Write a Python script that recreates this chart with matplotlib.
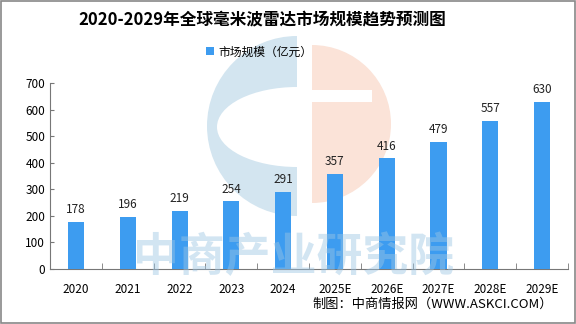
import numpy as np
import matplotlib.pyplot as plt
from matplotlib.patches import Ellipse, Rectangle, Wedge

plt.rcParams['font.family'] = ['Noto Sans CJK SC', 'DejaVu Sans']

years = ['2020', '2021', '2022', '2023', '2024', '2025E', '2026E', '2027E', '2028E', '2029E']
values = [178, 196, 219, 254, 291, 357, 416, 479, 557, 630]

fig = plt.figure(figsize=(5.76, 3.24), dpi=100)

# background layer in pixel coordinates for the watermark logo
bg = fig.add_axes([0, 0, 1, 1], zorder=0)
bg.set_xlim(0, 576)
bg.set_ylim(324, 0)
bg.axis('off')
blue_wm = '#d3e5f0'
pink_wm = '#fbe3d8'
bg.add_patch(Wedge((297, 126), 90, 90, 270, facecolor=blue_wm, edgecolor='none'))
bg.add_patch(Ellipse((297, 127), 160, 80, facecolor='white', edgecolor='none'))
bg.add_patch(Rectangle((297, 40), 20, 180, facecolor='white', edgecolor='none'))
bg.add_patch(Wedge((312, 124), 79, -90, 90, facecolor=pink_wm, edgecolor='none'))
bg.add_patch(Rectangle((312, 90), 60, 12, facecolor='white', edgecolor='none'))
bg.add_patch(Rectangle((1, 1), 574, 322, fill=False, edgecolor='#888888', linewidth=1.2))

ax = fig.add_axes([0.087, 0.17, 0.899, 0.574], zorder=1)
x = np.arange(len(years))
ax.bar(x, values, width=0.31, color='#3d9cf0', zorder=3, label='市场规模（亿元）')
for xi, v in zip(x, values):
    ax.text(xi, v + 22, str(v), ha='center', va='bottom', fontsize=8.5, color='#222222')

ax.set_ylim(0, 700)
ax.set_yticks(range(0, 701, 100))
ax.set_xlim(-0.5, len(years) - 0.5)
ax.set_xticks(x)
ax.set_xticklabels(years, fontsize=8.5)
ax.set_xticks(np.arange(-0.5, len(years), 1), minor=True)
ax.tick_params(axis='x', which='major', length=0, pad=10)
ax.tick_params(axis='x', which='minor', length=4, direction='in', color='#777777')
ax.tick_params(axis='y', labelsize=8.5, length=3, direction='in', color='#777777')
for s in ['top', 'right']:
    ax.spines[s].set_visible(False)
for s in ['left', 'bottom']:
    ax.spines[s].set_color('#777777')
ax.patch.set_alpha(0)

fig.text(0.455, 0.94, '2020-2029年全球毫米波雷达市场规模趋势预测图', ha='center', va='center',
         fontsize=12, fontweight='bold')
fig.legend(loc='center', bbox_to_anchor=(0.45, 0.84), frameon=False, fontsize=8.5,
           handlelength=0.7, handleheight=0.7, handletextpad=0.4)
fig.text(0.51, 0.205, '中商产业研究院', ha='center', va='center', fontsize=33,
         fontweight='bold', color='#9cc6e4', alpha=0.45, zorder=5)
fig.text(0.96, 0.06, '制图：中商情报网（WWW.ASKCI.COM）', ha='right', va='center', fontsize=9.5)

fig.savefig('out.png', dpi=100)
